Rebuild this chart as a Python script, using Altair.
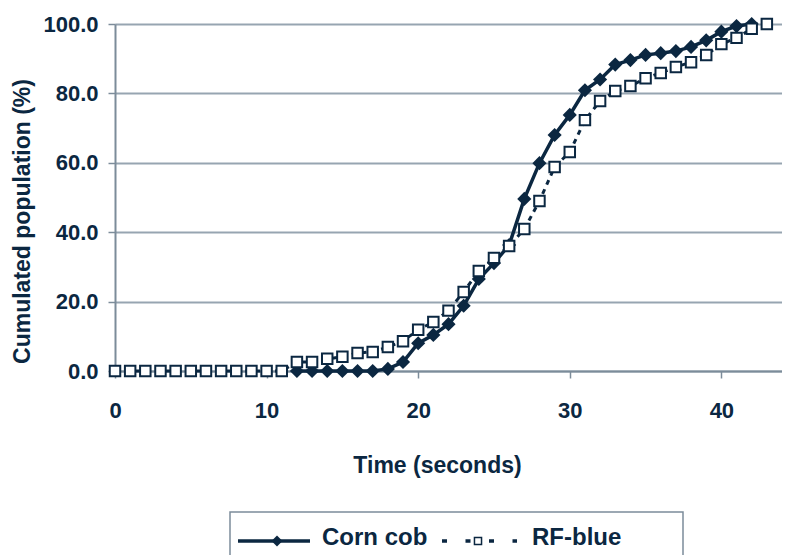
import altair as alt
import pandas as pd

# ---- data ----
corn_time = list(range(12, 43))
corn_values = [0, 0, 0, 0, 0, 0, 0.6, 2.6, 8.0, 10.4, 13.5, 18.8, 26.5, 31.1, 36.3,
               49.6, 59.9, 68.0, 73.8, 80.9, 84.0, 88.3, 89.6, 91.1, 91.6, 92.2,
               93.4, 95.3, 97.8, 99.4, 100.0]
rf_time = list(range(0, 44))
rf_values = [0] * 12 + [2.6, 2.6, 3.5, 4.1, 5.2, 5.5, 6.9, 8.6, 11.9, 14.1, 17.4,
                        22.8, 28.8, 32.6, 36.0, 40.9, 49.0, 58.8, 63.1, 72.3, 77.8,
                        80.7, 82.1, 84.4, 85.9, 87.6, 89.0, 91.1, 94.2, 96.0, 98.6,
                        100.0]
x_ticks = [0, 10, 20, 30, 40]
y_ticks = [0, 20, 40, 60, 80, 100]
series_names = ["Corn cob", "RF-blue"]

NAVY = "#0b2741"
GRID = "#97a5b1"
AXIS = "#7c8c9a"
FONT = "Liberation Sans"

corn = pd.DataFrame({"t": corn_time, "v": corn_values})
rf = pd.DataFrame({"t": rf_time, "v": rf_values})

xs = alt.Scale(domain=[0, 44], nice=False, zero=False)
ys = alt.Scale(domain=[0, 100], nice=False)

xenc = alt.X("t:Q", scale=xs, axis=alt.Axis(
    values=x_ticks, title="Time (seconds)", grid=False, labelFlush=False,
    labelFont=FONT, labelFontSize=22, labelFontWeight="bold", labelColor=NAVY,
    labelPadding=22, tickSize=7, tickColor=AXIS, tickWidth=1.5,
    domainColor=AXIS, domainWidth=2,
    titleFont=FONT, titleFontSize=23, titleFontWeight="bold", titleColor=NAVY,
    titleX=322, titleY=94, titleBaseline="middle", titleAlign="center"))
yenc = alt.Y("v:Q", scale=ys, axis=alt.Axis(
    values=y_ticks, format=".1f", title="Cumulated population (%)",
    grid=True, gridColor=GRID, gridWidth=2, labelFlush=False,
    labelFont=FONT, labelFontSize=22, labelFontWeight="bold", labelColor=NAVY,
    labelPadding=10, tickSize=7, tickColor=AXIS, tickWidth=1.5,
    domainColor=AXIS, domainWidth=2,
    titleFont=FONT, titleFontSize=23, titleFontWeight="bold", titleColor=NAVY,
    titleAngle=270, titleX=-93, titleY=197, titleBaseline="middle",
    titleAlign="center"))

corn_line = alt.Chart(corn).mark_line(color=NAVY, strokeWidth=3.5).encode(x=xenc, y=yenc)
corn_pts = alt.Chart(corn).mark_point(shape="diamond", filled=True, size=200,
                                      color=NAVY, opacity=1).encode(x="t:Q", y="v:Q")
rf_line = alt.Chart(rf).mark_line(color=NAVY, strokeWidth=3,
                                  strokeDash=[5, 5]).encode(x="t:Q", y="v:Q")
rf_pts = alt.Chart(rf).mark_point(shape="square", filled=True, fill="white",
                                  stroke=NAVY, strokeWidth=2, size=110,
                                  opacity=1).encode(x="t:Q", y="v:Q")

# ---- legend (drawn below the plot) ----
leg_df = pd.DataFrame({"name": series_names})
one = pd.DataFrame({"a": [0]})
leg_box = alt.Chart(one).mark_rect(fill="white", stroke=AXIS, strokeWidth=1.5).encode(
    x=alt.value(115), x2=alt.value(568), y=alt.value(488), y2=alt.value(620))
leg_l1 = alt.Chart(one).mark_rule(color=NAVY, strokeWidth=3.5).encode(
    x=alt.value(123), x2=alt.value(195), y=alt.value(517))
leg_p1 = alt.Chart(one).mark_point(shape="diamond", filled=True, size=120, color=NAVY,
                                   opacity=1).encode(x=alt.value(162), y=alt.value(517))
leg_l2 = alt.Chart(one).mark_rule(color=NAVY, strokeWidth=3.5, strokeDash=[5, 18.5]).encode(
    x=alt.value(327), x2=alt.value(402), y=alt.value(517))
leg_p2 = alt.Chart(one).mark_point(shape="square", filled=True, fill="white", stroke=NAVY,
                                   strokeWidth=1.5, size=50, opacity=1).encode(
    x=alt.value(363), y=alt.value(517))
leg_t1 = alt.Chart(leg_df).transform_filter(alt.datum.name == "Corn cob").mark_text(
    font=FONT, fontSize=24, fontWeight="bold", color=NAVY, align="left",
    baseline="middle").encode(x=alt.value(207), y=alt.value(514), text="name:N")
leg_t2 = alt.Chart(leg_df).transform_filter(alt.datum.name == "RF-blue").mark_text(
    font=FONT, fontSize=24, fontWeight="bold", color=NAVY, align="left",
    baseline="middle").encode(x=alt.value(417), y=alt.value(514), text="name:N")

chart = alt.layer(corn_line, corn_pts, rf_line, rf_pts,
                  leg_box, leg_l1, leg_p1, leg_l2, leg_p2, leg_t1, leg_t2).properties(
    width=667, height=347,
    autosize=alt.AutoSizeParams(type="none"),
    padding={"left": 107, "top": 16, "right": 0, "bottom": 184},
).configure_view(strokeWidth=0).configure(background="white")

chart.save("out.html", embed_options={"renderer": "svg", "actions": False})
